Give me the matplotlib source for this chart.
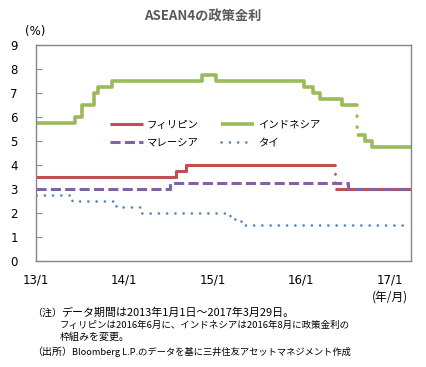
import matplotlib
matplotlib.use("Agg")
import matplotlib.pyplot as plt
import pandas as pd

plt.rcParams['font.family'] = ['Noto Sans CJK JP', 'DejaVu Sans']

# ---- data (step change dates and rates) ----
phl_dates = ['2013-01-01', '2014-07-31', '2014-09-11', '2016-05-20']
phl_values = [3.5, 3.75, 4.0, 4.0]
phl_new_dates = ['2016-05-20', '2017-03-29']
phl_new_values = [3.0, 3.0]

idn_dates = ['2013-01-01', '2013-06-13', '2013-07-11', '2013-08-29', '2013-09-12',
             '2013-11-12', '2014-11-18', '2015-01-15', '2016-01-14', '2016-02-17',
             '2016-03-17', '2016-06-16', '2016-08-18']
idn_values = [5.75, 6.0, 6.5, 7.0, 7.25, 7.5, 7.75, 7.5, 7.25, 7.0, 6.75, 6.5, 6.5]
idn_new_dates = ['2016-08-19', '2016-09-22', '2016-10-20', '2017-03-29']
idn_new_values = [5.25, 5.0, 4.75, 4.75]

mys_dates = ['2013-01-01', '2014-07-10', '2016-07-13', '2017-03-29']
mys_values = [3.0, 3.25, 3.0, 3.0]

tha_dates = ['2013-01-01', '2013-05-29', '2013-11-27', '2014-03-12', '2015-03-11',
             '2015-04-29', '2017-03-25']
tha_values = [2.75, 2.5, 2.25, 2.0, 1.75, 1.5, 1.5]

x_ticks = ['2013-01-01', '2014-01-01', '2015-01-01', '2016-01-01', '2017-01-01']
x_labels = ['13/1', '14/1', '15/1', '16/1', '17/1']
y_ticks = list(range(0, 10))

names = ['フィリピン', 'インドネシア', 'マレーシア', 'タイ']
c_red, c_green, c_purple, c_blue = '#C0504D', '#9BBB59', '#8064A2', '#4F81BD'

d = pd.to_datetime
fig = plt.figure(figsize=(4.27, 3.67), dpi=100)
ax = fig.add_axes([36/427, 1-261/367, 375/427, 216/367])

l_phl, = ax.plot(d(phl_dates), phl_values, drawstyle='steps-post', color=c_red, lw=2.2,
                 label=names[0], solid_capstyle='butt')
ax.plot(d(phl_new_dates), phl_new_values, drawstyle='steps-post', color=c_red, lw=2.2,
        solid_capstyle='butt')
ax.plot(d([phl_dates[-1], phl_new_dates[0]]), [phl_values[-1], phl_new_values[0]],
        color=c_red, lw=2.0, linestyle=(0, (0.1, 3.0)), dash_capstyle='round')

l_idn, = ax.plot(d(idn_dates), idn_values, drawstyle='steps-post', color=c_green, lw=2.6,
                 label=names[1], solid_capstyle='butt')
ax.plot(d(idn_new_dates), idn_new_values, drawstyle='steps-post', color=c_green, lw=2.6,
        solid_capstyle='butt')
ax.plot(d([idn_dates[-1], idn_new_dates[0]]), [idn_values[-1], idn_new_values[0]],
        color=c_green, lw=2.4, linestyle=(0, (0.1, 3.2)), dash_capstyle='round')

l_mys, = ax.plot(d(mys_dates), mys_values, drawstyle='steps-post', color=c_purple, lw=2.2,
                 linestyle=(0, (3.3, 1.4)), label=names[2])

l_tha, = ax.plot(d(tha_dates), tha_values, drawstyle='steps-post', color=c_blue, lw=1.8,
                 linestyle=(0, (0.1, 3.2)), dash_capstyle='round', label=names[3])

ax.set_xlim(d('2013-01-01'), d('2017-03-29'))
ax.set_ylim(0, 9)
ax.set_yticks(y_ticks)
ax.set_xticks(d(x_ticks))
ax.set_xticklabels(x_labels)
for s in ax.spines.values():
    s.set_color('#868686')
    s.set_linewidth(1.0)
ax.tick_params(axis='y', direction='in', length=4, color='#868686', labelsize=8.5,
               pad=13, labelcolor='#000000')
ax.tick_params(axis='x', length=0, labelsize=8.5, pad=9)
for lab in ax.get_xticklabels() + ax.get_yticklabels():
    lab.set_fontfamily('DejaVu Sans')

leg = fig.legend(handles=[l_phl, l_mys, l_idn, l_tha], ncol=2, frameon=False,
                 loc='upper left', bbox_to_anchor=(110/427, 1-120/367), fontsize=7.5,
                 handlelength=3.2, handletextpad=0.35, columnspacing=2.1,
                 labelspacing=0.75, borderpad=0, borderaxespad=0)

fig.text(203/427, 1-17/367, 'ASEAN4の政策金利', ha='center', va='center',
         fontsize=9.5, fontweight='bold', color='#595959')
fig.text(25/427, 1-32/367, '(%)', ha='left', va='center', fontsize=8.5,
         family='DejaVu Sans')
fig.text(408/427, 1-297/367, '(年/月)', ha='right', va='center', fontsize=8.5)

nfs = 7.2
fig.text(32/427, 1-313/367, '（注）', ha='left', va='center', fontsize=nfs)
fig.text(61/427, 1-313/367, 'データ期間は2013年1月1日～2017年3月29日。',
         ha='left', va='center', fontsize=7.9)
fig.text(60/427, 1-325/367, 'フィリピンは2016年6月に、インドネシアは2016年8月に政策金利の',
         ha='left', va='center', fontsize=6.8)
fig.text(60/427, 1-337/367, '枠組みを変更。', ha='left', va='center', fontsize=nfs)
fig.text(32/427, 1-352/367, '（出所）', ha='left', va='center', fontsize=nfs)
fig.text(72/427, 1-352/367, 'Bloomberg L.P.のデータを基に三井住友アセットマネジメント作成',
         ha='left', va='center', fontsize=6.7)

fig.savefig('out.png', dpi=100)
